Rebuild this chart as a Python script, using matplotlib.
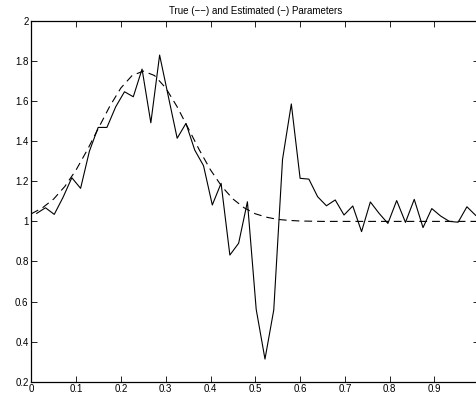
import numpy as np
import matplotlib
matplotlib.use('Agg')
import matplotlib.pyplot as plt

plt.rcParams['font.family'] = ['Liberation Sans', 'DejaVu Sans']

# estimated parameters (solid), 51 samples across the interval
est_x = np.linspace(0.012, 0.992, 51)
est_y = [1.040, 1.068, 1.035, 1.120, 1.218, 1.165, 1.350, 1.469, 1.469, 1.572,
         1.647, 1.622, 1.760, 1.492, 1.830, 1.622, 1.415, 1.489, 1.356, 1.278,
         1.082, 1.190, 0.832, 0.891, 1.098, 0.561, 0.313, 0.558, 1.310, 1.586,
         1.215, 1.211, 1.123, 1.078, 1.107, 1.032, 1.077, 0.949, 1.097, 1.040,
         0.990, 1.104, 0.995, 1.110, 0.969, 1.064, 1.027, 1.000, 0.996, 1.073,
         1.030]

# true parameters (dashed)
true_x = [0.0, 0.025, 0.05, 0.075, 0.1, 0.125, 0.15, 0.175, 0.2, 0.225, 0.25,
          0.275, 0.3, 0.325, 0.35, 0.375, 0.4, 0.425, 0.45, 0.475, 0.5, 0.525,
          0.55, 0.575, 0.6, 0.65, 0.7, 1.0]
true_y = [1.038, 1.068, 1.112, 1.175, 1.257, 1.357, 1.466, 1.574, 1.666, 1.728,
          1.750, 1.728, 1.666, 1.574, 1.466, 1.357, 1.257, 1.175, 1.112, 1.068,
          1.038, 1.021, 1.010, 1.005, 1.002, 1.000, 1.000, 1.000]

xticks = [0, 0.1, 0.2, 0.3, 0.4, 0.5, 0.6, 0.7, 0.8, 0.9]
xlabels = ['0', '0.1', '0.2', '0.3', '0.4', '0.5', '0.6', '0.7', '0.8', '0.9']
yticks = [0.2, 0.4, 0.6, 0.8, 1.0, 1.2, 1.4, 1.6, 1.8, 2.0]
ylabels = ['0.2', '0.4', '0.6', '0.8', '1', '1.2', '1.4', '1.6', '1.8', '2']

fig = plt.figure(figsize=(4.76, 4.01), dpi=100)
ax = fig.add_axes([0.0658, 0.0481, 0.9411, 0.8995])

ax.plot(true_x, true_y, color='black', lw=0.8, linestyle=(0, (7, 4.5)))
ax.plot(est_x, est_y, color='black', lw=0.8)

ax.set_xlim(0, 1)
ax.set_ylim(0.2, 2)
ax.set_xticks(xticks)
ax.set_xticklabels(xlabels)
ax.set_yticks(yticks)
ax.set_yticklabels(ylabels)
ax.tick_params(direction='in', length=4, width=0.6, labelsize=7, pad=2,
               top=True, right=True)
for s in ax.spines.values():
    s.set_linewidth(0.9)

ax.set_title('True (\u2212\u2212) and Estimated (\u2212) Parameters', fontsize=7, pad=5)

fig.savefig('out.png', dpi=100)
